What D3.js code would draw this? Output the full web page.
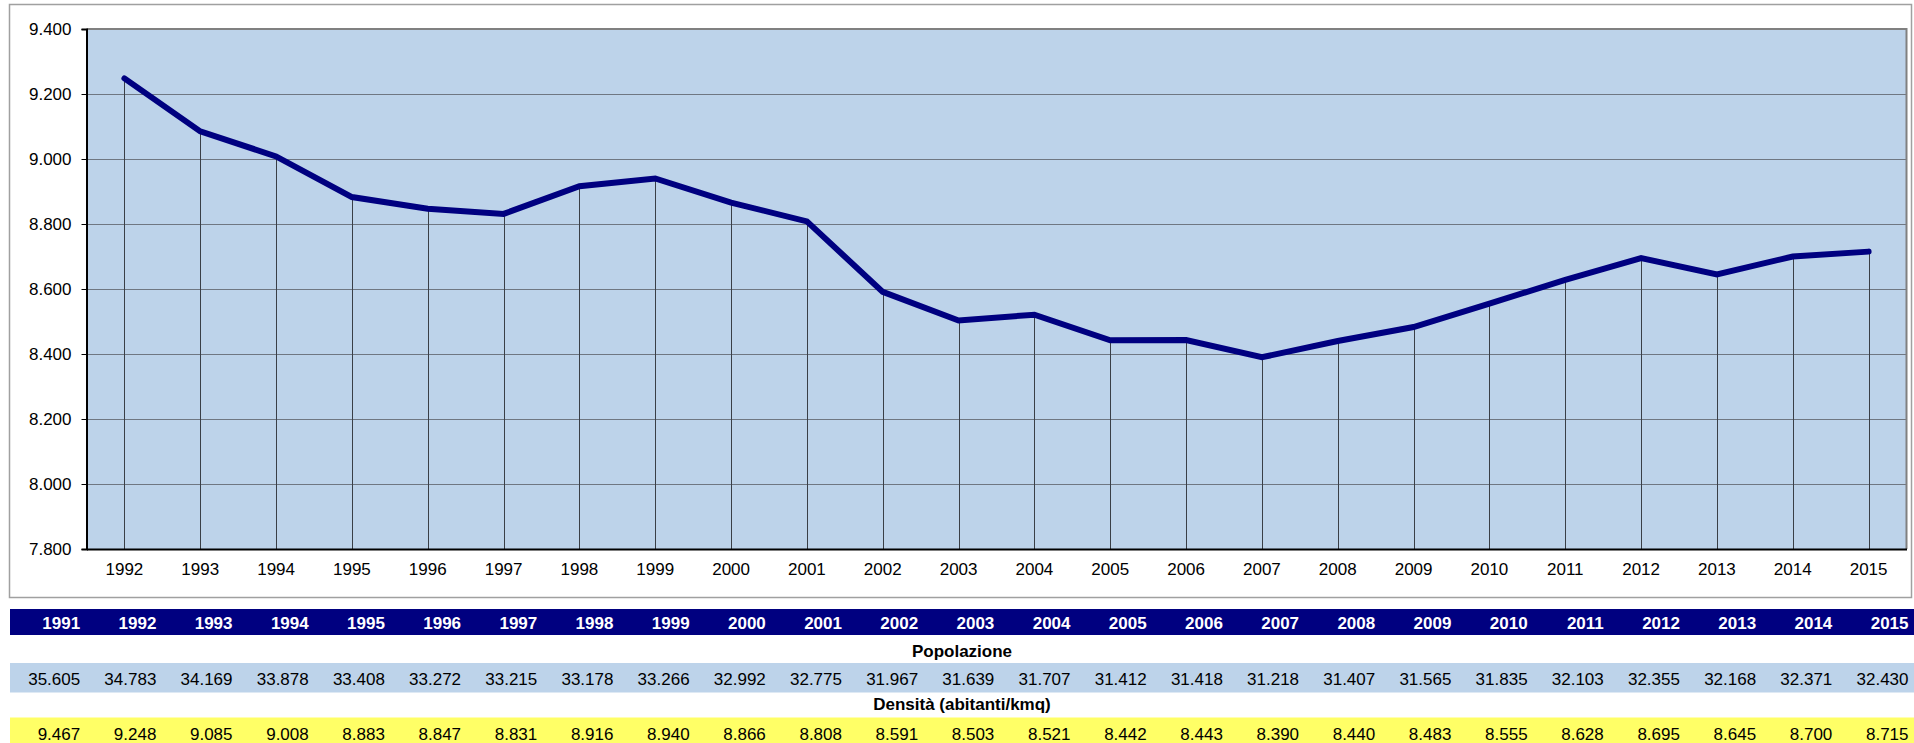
<!DOCTYPE html>
<html>
<head>
<meta charset="utf-8">
<script src="https://cdn.jsdelivr.net/npm/d3@7"></script>
<style>
  body { margin: 0; background: #fff; }
  text { font-family: "Liberation Sans", Arial, sans-serif; }
</style>
</head>
<body>
<div id="chart"></div>
<script>
const years = [1991, 1992, 1993, 1994, 1995, 1996, 1997, 1998, 1999, 2000, 2001, 2002, 2003,
    2004, 2005, 2006, 2007, 2008, 2009, 2010, 2011, 2012, 2013, 2014, 2015];
const popolazione = [35605, 34783, 34169, 33878, 33408, 33272, 33215, 33178, 33266, 32992, 32775,
    31967, 31639, 31707, 31412, 31418, 31218, 31407, 31565, 31835, 32103, 32355, 32168, 32371, 32430];
const densita = [9467, 9248, 9085, 9008, 8883, 8847, 8831, 8916, 8940, 8866, 8808, 8591, 8503,
    8521, 8442, 8443, 8390, 8440, 8483, 8555, 8628, 8695, 8645, 8700, 8715];
const yTicks = [7800, 8000, 8200, 8400, 8600, 8800, 9000, 9200, 9400];

const width = 1914, height = 743;

const it = d3.formatLocale({ decimal: ",", thousands: ".", grouping: [3], currency: ["€", ""] });
const fmt = it.format(",.0f");

// chart shows 1992 onwards
const chartData = years.slice(1).map((y, i) => ({ year: y, value: densita[i + 1] }));

const svg = d3.select("#chart")
    .append("svg")
    .attr("width", width)
    .attr("height", height);

const plot = { left: 86.5, top: 29, right: 1906.5, bottom: 549 };

// outer chart box
svg.append("rect")
    .attr("x", 9.5).attr("y", 4.5)
    .attr("width", 1902).attr("height", 593)
    .attr("fill", "#fff")
    .attr("stroke", "#a0a0a0")
    .attr("stroke-width", 1.5);

const x = d3.scaleBand()
    .domain(chartData.map(d => d.year))
    .range([plot.left, plot.right]);

const y = d3.scaleLinear()
    .domain([7800, 9400])
    .range([plot.bottom, plot.top]);

// plot background
svg.append("rect")
    .attr("x", plot.left).attr("y", plot.top)
    .attr("width", plot.right - plot.left).attr("height", plot.bottom - plot.top)
    .attr("fill", "#bdd3ea");

// horizontal gridlines
svg.append("g")
    .selectAll("line")
    .data(yTicks.slice(1, -1))
    .enter().append("line")
    .attr("x1", plot.left).attr("x2", plot.right)
    .attr("y1", d => Math.round(y(d)) + 0.5).attr("y2", d => Math.round(y(d)) + 0.5)
    .attr("stroke", "#6f7782")
    .attr("stroke-width", 1);

// drop lines
const cx = d => Math.round(x(d.year) + x.bandwidth() / 2) + 0.5;
svg.append("g")
    .selectAll("line")
    .data(chartData)
    .enter().append("line")
    .attr("x1", cx).attr("x2", cx)
    .attr("y1", d => y(d.value)).attr("y2", plot.bottom)
    .attr("stroke", "#3a3f47")
    .attr("stroke-width", 1);

// top / right border
svg.append("path")
    .attr("d", `M${plot.left},${plot.top} H${plot.right} V${plot.bottom}`)
    .attr("fill", "none")
    .attr("stroke", "#808080")
    .attr("stroke-width", 2);

// y axis
const yAxis = svg.append("g")
    .attr("transform", `translate(${plot.left},0)`)
    .call(d3.axisLeft(y).tickValues(yTicks).tickFormat(fmt).tickSize(5).tickPadding(10));
yAxis.select(".domain").attr("stroke", "#000").attr("stroke-width", 2);
yAxis.selectAll(".tick line").attr("stroke", "#000");
yAxis.selectAll("text").attr("font-size", 17).attr("fill", "#000")
    .style("font-family", "'Liberation Sans', Arial, sans-serif");

// x axis
const xAxis = svg.append("g")
    .attr("transform", `translate(0,${plot.bottom})`)
    .call(d3.axisBottom(x).tickSize(0).tickPadding(14));
xAxis.select(".domain").attr("stroke", "#000").attr("stroke-width", 2);
xAxis.selectAll("text").attr("font-size", 17).attr("fill", "#000")
    .style("font-family", "'Liberation Sans', Arial, sans-serif");

// the line
const line = d3.line()
    .x(d => x(d.year) + x.bandwidth() / 2)
    .y(d => y(d.value));

svg.append("path")
    .datum(chartData)
    .attr("d", line)
    .attr("fill", "none")
    .attr("stroke", "#000080")
    .attr("stroke-width", 6)
    .attr("stroke-linejoin", "miter")
    .attr("stroke-linecap", "round");

// table below
const tx = d3.scaleBand()
    .domain(years)
    .range([10, 1914.5]);

const table = svg.append("g");

table.append("rect")
    .attr("x", 10).attr("y", 609)
    .attr("width", width - 10).attr("height", 26)
    .attr("fill", "#000080");

table.selectAll("text.yr")
    .data(years)
    .enter().append("text")
    .attr("class", "yr")
    .attr("x", d => tx(d) + tx.bandwidth() - 6)
    .attr("y", 629)
    .attr("text-anchor", "end")
    .attr("font-size", 17)
    .attr("font-weight", "bold")
    .attr("fill", "#fff")
    .text(d => d);

table.append("text")
    .attr("x", (10 + width) / 2)
    .attr("y", 657)
    .attr("text-anchor", "middle")
    .attr("font-size", 17)
    .attr("font-weight", "bold")
    .text("Popolazione");

table.append("rect")
    .attr("x", 10).attr("y", 663)
    .attr("width", width - 10).attr("height", 29.5)
    .attr("fill", "#bdd3ea");

table.selectAll("text.pop")
    .data(popolazione)
    .enter().append("text")
    .attr("class", "pop")
    .attr("x", (d, i) => tx(years[i]) + tx.bandwidth() - 6)
    .attr("y", 685)
    .attr("text-anchor", "end")
    .attr("font-size", 17)
    .text(d => fmt(d));

table.append("text")
    .attr("x", (10 + width) / 2)
    .attr("y", 710)
    .attr("text-anchor", "middle")
    .attr("font-size", 17)
    .attr("font-weight", "bold")
    .text("Densità (abitanti/kmq)");

table.append("rect")
    .attr("x", 10).attr("y", 717.5)
    .attr("width", width - 10).attr("height", 30)
    .attr("fill", "#ffff66");

table.selectAll("text.dens")
    .data(densita)
    .enter().append("text")
    .attr("class", "dens")
    .attr("x", (d, i) => tx(years[i]) + tx.bandwidth() - 6)
    .attr("y", 739.5)
    .attr("text-anchor", "end")
    .attr("font-size", 17)
    .text(d => fmt(d));
</script>
</body>
</html>
